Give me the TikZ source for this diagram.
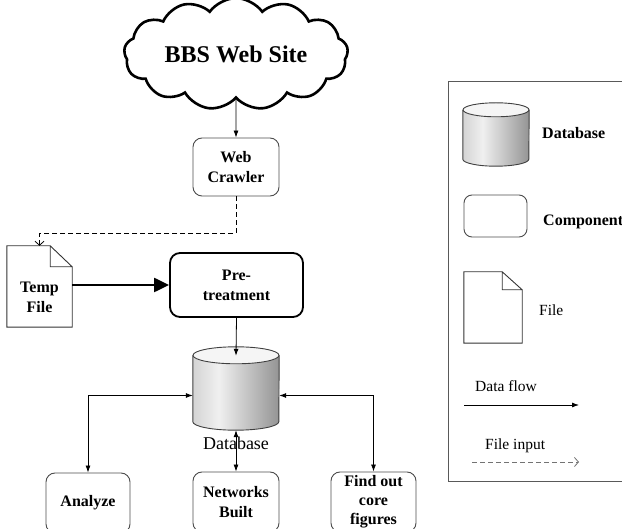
\documentclass[tikz,border=0pt]{standalone}
\usepackage{fontspec}
\setmainfont{Liberation Serif}
\usetikzlibrary{positioning,calc,shapes.geometric,shapes.symbols,arrows.meta}

\pgfdeclarehorizontalshading{dbshade}{100bp}{color(0bp)=(black!17); color(25bp)=(black!17); color(40bp)=(black!6); color(75bp)=(black!42); color(100bp)=(black!42)}

\newcommand{\lblfont}{\fontsize{16}{20}\selectfont\bfseries}
\newcommand{\legfont}{\fontsize{15.5}{18}\selectfont}

% file symbol: node name, fold width, fold height
\newcommand{\fileoutline}[3]{%
  \draw[filedraw] (#1.south west) -- (#1.north west) -- ([xshift=-#2]#1.north east) -- ([yshift=-#3]#1.north east) -- (#1.south east) -- cycle
    ([xshift=-#2]#1.north east) |- ([yshift=-#3]#1.north east);}

% database symbol: node name, x radius, y radius
\newcommand{\dbdraw}[3]{%
  \shade[shading=dbshade] ([yshift=-#3]#1.north west) -- ([yshift=#3]#1.south west) arc[start angle=180,end angle=360,x radius=#2,y radius=#3] -- ([yshift=-#3]#1.north east) arc[start angle=0,end angle=180,x radius=#2,y radius=#3] -- cycle;
  \filldraw[dbline,fill=black!4] ([yshift=-#3]#1.north) ellipse (#2 and #3);
  \draw[dbline] ([yshift=-#3]#1.north west) -- ([yshift=#3]#1.south west) arc[start angle=180,end angle=360,x radius=#2,y radius=#3] -- ([yshift=-#3]#1.north east);}

\tikzset{
  comp/.style={draw=black!70,line width=0.9pt,rounded corners=9pt,minimum width=86pt,minimum height=58pt,inner sep=1pt,align=center,font=\lblfont},
  dbbox/.style={inner sep=0pt},
  dbline/.style={draw=black!75,line width=0.9pt},
  filebox/.style={inner sep=0pt},
  filedraw/.style={draw=black!80,line width=0.9pt,line join=miter},
  flow/.style={-{Latex[length=7pt,width=5pt]},line width=0.8pt},
  twoway/.style={{Latex[length=7pt,width=5pt]}-{Latex[length=7pt,width=5pt]},line width=0.8pt},
  bigflow/.style={-{Triangle[length=15pt,width=14pt]},line width=2.2pt},
  fileflow/.style={-{Straight Barb[length=4pt,width=9pt]},line width=0.8pt,dash pattern=on 5pt off 3pt}
}

\begin{document}
\begin{tikzpicture}[x=1pt,y=-1pt,every node/.style={align=center}]
\useasboundingbox (0,0) rectangle (622,529);
\clip (0,0) rectangle (622,529);

\node[cloud,cloud puffs=13,cloud puff arc=110,aspect=2.4,draw,line width=2.6pt,minimum width=224pt,minimum height=94pt,font=\fontsize{24}{28}\selectfont\bfseries] (bbs) at (236,54) {BBS Web Site};
\node[comp] (crawler) at (236,167) {Web\\Crawler};

\node[filebox,minimum width=65pt,minimum height=81pt] (tmp) at (39.5,286.5) {};
\fileoutline{tmp}{22pt}{21pt}
\node[font=\lblfont] (tmptext) at (39.5,297) {Temp\\File};

\node[comp,draw=black,line width=1.8pt,rounded corners=10pt,minimum width=133pt,minimum height=64pt] (pre) at (236.5,285) {Pre-\\treatment};

\node[dbbox,minimum width=86pt,minimum height=83pt] (db) at (236,388.5) {};
\dbdraw{db}{43pt}{8.5pt}
\node[font=\fontsize{18}{20}\selectfont] (dblabel) at (236,443) {Database};

\node[comp,minimum width=84pt,minimum height=60pt] (analyze) at (88,503) {Analyze};
\node[comp,minimum height=60pt] (networks) at (236,502) {Networks\\Built};
\node[comp,minimum width=85pt,minimum height=60pt,font=\fontsize{16}{19}\selectfont\bfseries] (findout) at (373.5,502) {Find out\\core\\figures};

\draw[flow] (bbs.south) -- (crawler.north);
\draw[fileflow] (crawler.south) -- ++(0,37) -| (tmp.north);
\draw[bigflow] (tmp.east |- pre.west) -- (pre.west);
\draw[flow] (pre.south) -- ([yshift=-9pt]db.north);
\draw[twoway] ([yshift=-7pt]db.west) -| (analyze.north);
\draw[twoway] ([yshift=-7pt]db.east) -| (findout.north);
\draw[twoway] (db.south) -- (networks.north);

% legend
\draw[draw=black!65,line width=0.8pt] (448,81) rectangle (640,481);
\node[dbbox,minimum width=66pt,minimum height=63pt] (legdb) at (496,134.5) {};
\dbdraw{legdb}{33pt}{7pt}
\node[font=\lblfont,anchor=west,inner sep=0pt] (legdbtext) at (542,133) {Database};
\node[comp,minimum width=63pt,minimum height=42pt,rounded corners=8pt] (legcomp) at (495.5,216) {};
\node[font=\lblfont,anchor=west,inner sep=0pt] (legcomptext) at (543,222) {Component};
\node[filebox,minimum width=58pt,minimum height=71pt] (legfile) at (493,307.5) {};
\fileoutline{legfile}{20pt}{18pt}
\node[font=\legfont,anchor=west,inner sep=0pt] (legfiletext) at (539,310) {File};
\node[font=\legfont,anchor=west,inner sep=0pt] (legflowtext) at (475,386) {Data flow};
\coordinate (flowA) at (464,405);
\coordinate (flowB) at (579,405);
\draw[flow] (flowA) -- (flowB);
\node[font=\legfont,anchor=west,inner sep=0pt] (leginputtext) at (485,446) {File input};
\coordinate (inA) at (472,462);
\coordinate (inB) at (579,462);
\draw[fileflow,draw=black!55] (inA) -- (inB);
\end{tikzpicture}
\end{document}
